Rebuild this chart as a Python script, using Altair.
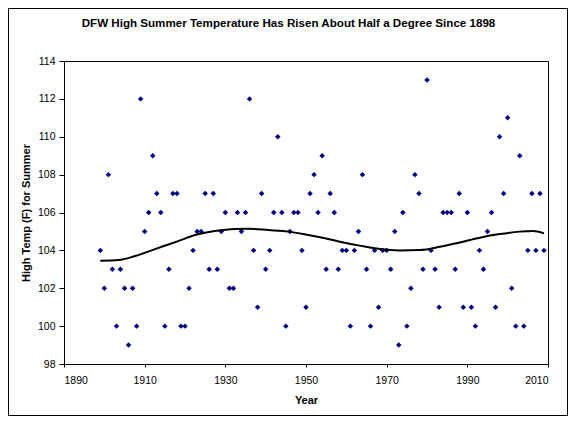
import altair as alt
import pandas as pd

TITLE = "DFW High Summer Temperature Has Risen About Half a Degree Since 1898"
X_TITLE = "Year"
Y_TITLE = "High Temp (F) for Summer"

years = list(range(1899, 2010))
temps = [
    104, 102, 108, 103, 100, 103, 102, 99, 102, 100, 112,   # 1899-1909
    105, 106, 109, 107, 106, 100, 103, 107, 107, 100,        # 1910-1919
    100, 102, 104, 105, 105, 107, 103, 107, 103, 105,        # 1920-1929
    106, 102, 102, 106, 105, 106, 112, 104, 101, 107,        # 1930-1939
    103, 104, 106, 110, 106, 100, 105, 106, 106, 104,        # 1940-1949
    101, 107, 108, 106, 109, 103, 107, 106, 103, 104,        # 1950-1959
    104, 100, 104, 105, 108, 103, 100, 104, 101, 104,        # 1960-1969
    104, 103, 105, 99, 106, 100, 102, 108, 107, 103,         # 1970-1979
    113, 104, 103, 101, 106, 106, 106, 103, 107, 101,        # 1980-1989
    106, 101, 100, 104, 103, 105, 106, 101, 110, 107,        # 1990-1999
    111, 102, 100, 109, 100, 104, 107, 104, 107, 104,        # 2000-2009
]

# trend line (polynomial trendline of the original)
trend_years = [1899, 1903.5, 1907.6, 1914.2, 1918.3, 1922.5, 1927.4, 1932.4,
               1935.7, 1940.7, 1945.6, 1950.6, 1954.7, 1958.4, 1963.3, 1968.3,
               1973.3, 1978.2, 1983.2, 1988.1, 1993.1, 1998.0, 2003.0, 2006.3,
               2009]
trend_temps = [103.45, 103.49, 103.70, 104.19, 104.49, 104.81, 105.02, 105.13,
               105.14, 105.07, 104.99, 104.81, 104.64, 104.46, 104.25, 104.07,
               104.00, 104.02, 104.19, 104.42, 104.67, 104.86, 104.99, 105.02,
               104.90]

x_ticks = [1890, 1910, 1930, 1950, 1970, 1990, 2010]
y_ticks = [98, 100, 102, 104, 106, 108, 110, 112, 114]

df = pd.DataFrame({"year": years, "temp": temps})
df_trend = pd.DataFrame({"year": trend_years, "temp": trend_temps})

FONT = "Liberation Sans"
W, H = 484, 303

x_enc = alt.X(
    "year:Q",
    scale=alt.Scale(domain=[1890, 2010], nice=False, zero=False),
    axis=alt.Axis(
        values=x_ticks, format="d", title=X_TITLE, grid=False,
        tickSize=3, labelPadding=8, labelFontSize=10.5, labelOverlap=False,
        titleX=242, titleY=36.5, titleFontSize=11, titleFontWeight="bold",
        titleBaseline="middle",
    ),
)
y_enc = alt.Y(
    "temp:Q",
    scale=alt.Scale(domain=[98, 114], nice=False, zero=False),
    axis=alt.Axis(
        values=y_ticks, format="d", title=Y_TITLE, grid=False,
        tickSize=5, labelPadding=4, labelFontSize=10.5, labelOverlap=False,
        titleX=-38, titleY=151.5, titleAngle=-90, titleFontSize=11,
        titleFontWeight="bold", titleBaseline="middle", titleAlign="center",
    ),
)

points = alt.Chart(df).mark_point(
    shape="diamond", filled=True, size=30, color="#000080", opacity=1
).encode(x=x_enc, y=y_enc)

trend = alt.Chart(df_trend).mark_line(
    color="black", strokeWidth=2, interpolate="monotone"
).encode(x=x_enc, y=y_enc)

title = alt.Chart(pd.DataFrame({"t": [TITLE]})).mark_text(
    font=FONT, fontSize=11.6, fontWeight="bold", color="black",
    align="center", baseline="middle",
).encode(text="t:N", x=alt.value(224.5), y=alt.value(-37))

frame = alt.Chart(pd.DataFrame({"a": [0]})).mark_rect(
    fillOpacity=0, stroke="black", strokeWidth=1
).encode(x=alt.value(-55.5), x2=alt.value(503.5), y=alt.value(-52.5), y2=alt.value(354.5))

chart = alt.layer(frame, points, trend, title).properties(
    width=W, height=H,
    autosize=alt.AutoSizeParams(type="none"),
    padding={"left": 56, "top": 53, "right": 20, "bottom": 52},
    background="white",
).configure_view(
    stroke="black", strokeWidth=1
).configure_axis(
    labelFont=FONT, titleFont=FONT, labelColor="black", titleColor="black",
    domainColor="black", tickColor="black", domainWidth=1, tickWidth=1,
)

chart.save("out.html", embed_options={"renderer": "svg", "actions": False})
